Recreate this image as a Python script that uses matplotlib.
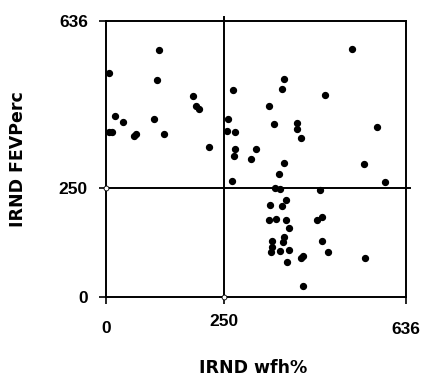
import matplotlib.pyplot as plt
import matplotlib.transforms as mtransforms

# values
wfh = [6, 113, 108, 6, 13, 20, 35, 59, 63, 102, 124, 184, 191, 197, 218,
       258, 257, 270, 273, 274, 271, 267, 307, 318, 346, 357, 377, 373,
       405, 405, 413, 377, 367, 359, 369, 382, 374, 348, 345, 361, 381,
       389, 377, 376, 353, 351, 350, 369, 389, 384, 413, 418, 418, 454,
       447, 458, 459, 471, 464, 522, 575, 547, 592, 550]
fev = [515, 568, 499, 380, 379, 417, 402, 370, 376, 409, 376, 462, 439,
       432, 346, 410, 381, 476, 380, 340, 324, 266, 318, 340, 439, 398,
       502, 479, 400, 387, 366, 308, 284, 250, 249, 224, 210, 211, 177,
       180, 176, 159, 138, 127, 129, 115, 104, 106, 107, 80, 90, 93, 25,
       247, 177, 183, 129, 103, 465, 570, 391, 305, 265, 90]
ticks = [0, 250, 636]
cut = 250
top = 636

fig = plt.figure(figsize=(4.24, 3.79), dpi=100)
ax = fig.add_axes([0.25, 0.217, 0.7075, 0.728])

ax.scatter(wfh, fev, s=18, color='black', zorder=3)
# crosshair, running a little past the frame like in the reference
ax.plot([cut, cut], [0, top * 1.015], color='black', lw=1.4, clip_on=False)
ax.plot([0, top * 1.015], [cut, cut], color='black', lw=1.4, clip_on=False)
ax.plot([0, cut], [cut, 0], 'o', ms=3.5, mfc='white', mec='black', mew=0.6,
        clip_on=False, zorder=4)

ax.set_xlim(0, top)
ax.set_ylim(0, top)
for sp in ax.spines.values():
    sp.set_linewidth(1.4)

ax.set_xticks(ticks)
ax.set_yticks(ticks)
tick_font = dict(family='Liberation Sans', fontsize=12.5, fontweight='bold')
ax.set_xticklabels([str(t) for t in ticks], **tick_font)
ax.set_yticklabels([str(t) for t in ticks], **tick_font)
ax.tick_params(direction='out', length=5, width=1.2)
ax.tick_params(axis='x', pad=9)
ax.tick_params(axis='y', pad=8)

# staggered x tick labels as in the reference
shifts = [(0, -5), (0, 2), (0, -6)]
for lab, (dx, dy) in zip(ax.get_xticklabels(), shifts):
    lab.set_transform(lab.get_transform() +
                      mtransforms.ScaledTranslation(dx / 100, dy / 100, fig.dpi_scale_trans))

label_font = dict(family='DejaVu Sans', fontsize=12.5, fontweight='bold')
ax.set_xlabel('IRND wfh%', **label_font)
ax.set_ylabel('IRND FEVPerc', **label_font)
ax.xaxis.set_label_coords(0.49, -0.225)
ax.yaxis.set_label_coords(-0.265, 0.5)

fig.savefig('out.png', dpi=100)
